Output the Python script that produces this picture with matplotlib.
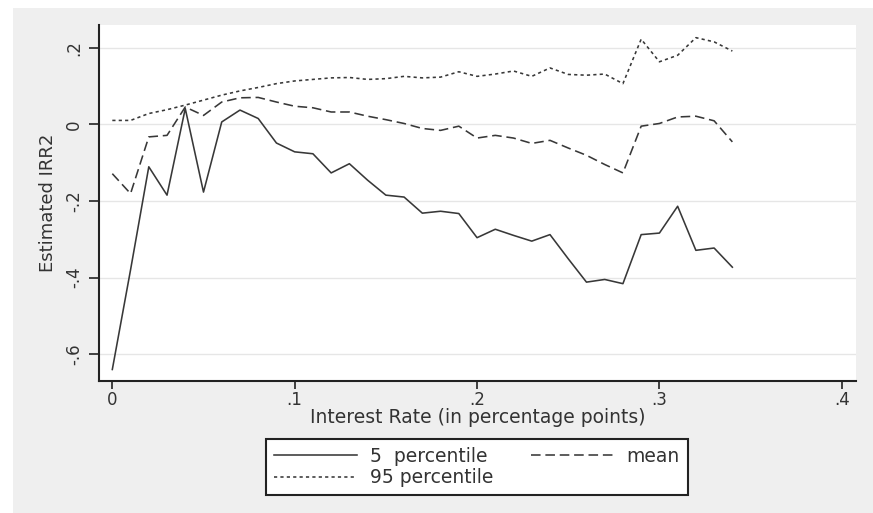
import numpy as np
import matplotlib as mpl
import matplotlib.pyplot as plt
from matplotlib.patches import Rectangle

# interest rate grid (0 .. .34)
rate = [i / 100 for i in range(35)]

p5 = [-0.64, -0.38, -0.111, -0.185, 0.041, -0.177, 0.006, 0.037, 0.015, -0.049,
      -0.072, -0.077, -0.127, -0.103, -0.146, -0.185, -0.19, -0.232, -0.227, -0.233,
      -0.296, -0.274, -0.29, -0.305, -0.288, -0.351, -0.412, -0.405, -0.416, -0.288,
      -0.284, -0.214, -0.329, -0.323, -0.373]

mean = [-0.129, -0.181, -0.033, -0.029, 0.045, 0.023, 0.058, 0.069, 0.07, 0.058,
        0.047, 0.043, 0.032, 0.032, 0.021, 0.012, 0.002, -0.011, -0.016, -0.005,
        -0.036, -0.029, -0.036, -0.05, -0.042, -0.062, -0.081, -0.105, -0.127, -0.005,
        0.002, 0.019, 0.021, 0.009, -0.046]

p95 = [0.01, 0.01, 0.028, 0.038, 0.05, 0.063, 0.076, 0.087, 0.096, 0.106,
       0.113, 0.117, 0.121, 0.122, 0.117, 0.119, 0.125, 0.121, 0.123, 0.137,
       0.125, 0.131, 0.139, 0.125, 0.147, 0.13, 0.128, 0.131, 0.106, 0.222,
       0.163, 0.18, 0.226, 0.215, 0.191]

xticks = [0, 0.1, 0.2, 0.3, 0.4]
xticklabels = ["0", ".1", ".2", ".3", ".4"]
yticks = [-0.6, -0.4, -0.2, 0, 0.2]
yticklabels = ["-.6", "-.4", "-.2", "0", ".2"]


def main():
    # the original is a horizontally stretched Arial, DejaVu is the wider match
    mpl.rcParams["font.family"] = ["DejaVu Sans"]
    W, H = 873, 513
    fig = plt.figure(figsize=(W / 100, H / 100), dpi=100, facecolor="white")

    # stata style grey graph region
    fig.add_artist(Rectangle((13 / W, 0), 1 - 13 / W, 1 - 8 / H,
                             transform=fig.transFigure, facecolor="#efefef",
                             edgecolor="none", zorder=-10))

    ax = fig.add_axes([99 / W, 1 - 381 / H, (856 - 99) / W, (381 - 25) / H])
    ax.set_facecolor("white")

    c = "#383838"
    txt = "#333333"
    ax.plot(rate, p5, color=c, lw=1.15, label="5  percentile")
    ax.plot(rate, p95, color=c, lw=1.15, dashes=(2, 2), label="95 percentile")
    ax.plot(rate, mean, color=c, lw=1.15, dashes=(6, 3), label="mean")

    ax.set_xlim(-0.0073, 0.4078)
    ax.set_ylim(-0.670, 0.259)

    ax.set_xticks(xticks)
    ax.set_xticklabels(xticklabels, fontsize=12, color=txt)
    ax.set_yticks(yticks)
    ax.set_yticklabels(yticklabels, fontsize=12, rotation=90, va="center", color=txt)
    ax.tick_params(axis="x", length=6, width=1.2, color="#222222", pad=1)
    ax.tick_params(axis="y", length=7.5, width=1.2, color="#222222", pad=4)

    ax.grid(axis="y", color="#e6e6e6", lw=1)
    ax.set_axisbelow(True)
    for s in ["top", "right"]:
        ax.spines[s].set_visible(False)
    for s in ["left", "bottom"]:
        ax.spines[s].set_linewidth(1.5)
        ax.spines[s].set_color("#222222")

    ax.set_xlabel("Interest Rate (in percentage points)", fontsize=13.5, labelpad=-0.5,
                  color=txt)
    ax.set_ylabel("Estimated IRR2", fontsize=13, labelpad=6, color=txt)

    leg = ax.legend(ncol=2, loc="center", bbox_to_anchor=(477 / W, 1 - 467 / H),
                    bbox_transform=fig.transFigure, fontsize=13.5, frameon=True,
                    fancybox=False, framealpha=1, edgecolor="#222222",
                    handlelength=4.4, handletextpad=0.7, columnspacing=2.0,
                    borderpad=0.42, labelspacing=0.12, borderaxespad=0)
    leg.get_frame().set_linewidth(1.5)
    for t in leg.get_texts():
        t.set_color(txt)

    fig.savefig("out.png", dpi=100, facecolor=fig.get_facecolor())


if __name__ == "__main__":
    main()
